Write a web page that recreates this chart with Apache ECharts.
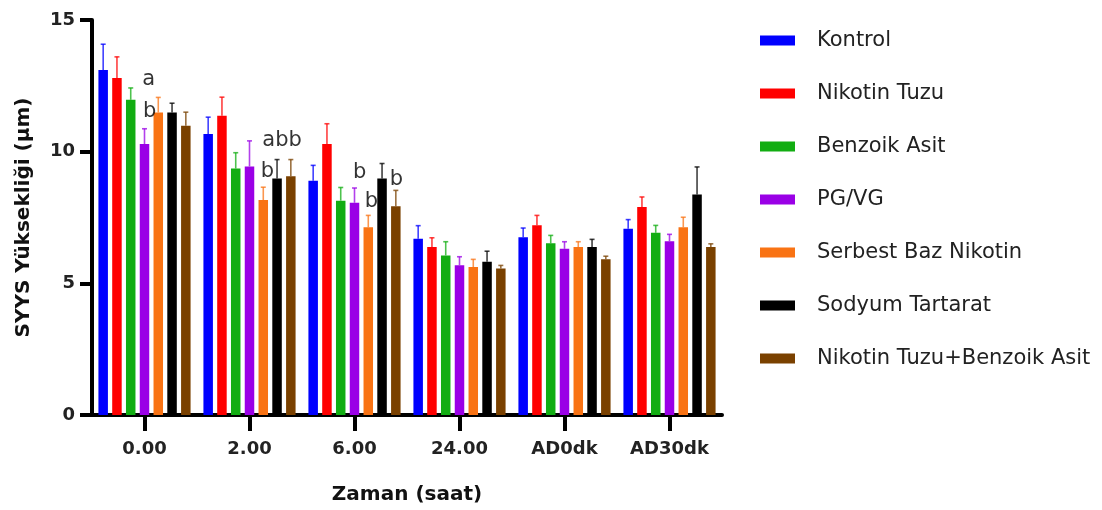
<!DOCTYPE html>
<html>
<head>
<meta charset="utf-8">
<script src="https://cdn.jsdelivr.net/npm/echarts@6/dist/echarts.min.js"></script>
<style>
html,body{margin:0;padding:0;background:#fff;}
#c{width:1102px;height:510px;}
</style>
</head>
<body>
<div id="c"></div>
<script>
const categories = ['0.00', '2.00', '6.00', '24.00', 'AD0dk', 'AD30dk'];
const seriesNames = ['Kontrol', 'Nikotin Tuzu', 'Benzoik Asit', 'PG/VG', 'Serbest Baz Nikotin', 'Sodyum Tartarat', 'Nikotin Tuzu+Benzoik Asit'];
const colors = ['#0000ff', '#ff0000', '#12ad12', '#9a00e6', '#f97314', '#000000', '#7a4100'];

const kontrol      = [13.10, 10.67, 8.90, 6.69, 6.75, 7.07];
const kontrolErr   = [0.98, 0.64, 0.58, 0.50, 0.35, 0.35];
const nikotinTuzu  = [12.80, 11.36, 10.29, 6.38, 7.21, 7.90];
const nikotinTuzuErr = [0.80, 0.71, 0.77, 0.35, 0.37, 0.38];
const benzoikAsit  = [11.97, 9.36, 8.14, 6.06, 6.52, 6.92];
const benzoikAsitErr = [0.45, 0.60, 0.50, 0.52, 0.30, 0.28];
const pgvg         = [10.29, 9.44, 8.06, 5.69, 6.31, 6.60];
const pgvgErr      = [0.58, 0.97, 0.56, 0.32, 0.27, 0.26];
const serbestBaz   = [11.49, 8.16, 7.13, 5.62, 6.38, 7.13];
const serbestBazErr = [0.57, 0.49, 0.45, 0.29, 0.20, 0.38];
const sodyum       = [11.49, 8.98, 8.98, 5.82, 6.38, 8.37];
const sodyumErr    = [0.35, 0.72, 0.57, 0.40, 0.29, 1.05];
const ntba         = [10.98, 9.07, 7.93, 5.56, 5.91, 6.38];
const ntbaErr      = [0.52, 0.63, 0.60, 0.12, 0.12, 0.12];

const yTicks = [0, 5, 10, 15];

// significance letters: [x position on category scale, y value, text]
const annoX = [0.04, 0.05, 1.31, 1.17, 2.05, 2.16, 2.40];
const annoY = [12.73, 11.52, 10.42, 9.24, 9.20, 8.11, 8.94];
const annoText = ['a', 'b', 'abb', 'b', 'b', 'b', 'b'];

const values = [kontrol, nikotinTuzu, benzoikAsit, pgvg, serbestBaz, sodyum, ntba];
const errs = [kontrolErr, nikotinTuzuErr, benzoikAsitErr, pgvgErr, serbestBazErr, sodyumErr, ntbaErr];

const BAR_W = 9.5;
const GAP = 0.45;
const FONT = 'DejaVu Sans';

const chart = echarts.init(document.getElementById('c'), null, {renderer: 'canvas'});

const series = [];
seriesNames.forEach((name, k) => {
  series.push({
    name: name,
    type: 'bar',
    data: values[k],
    barWidth: BAR_W,
    barGap: (GAP * 100) + '%',
    itemStyle: {color: colors[k]},
    xAxisIndex: 0, yAxisIndex: 0,
    z: 2
  });
});
seriesNames.forEach((name, k) => {
  const n = seriesNames.length;
  series.push({
    type: 'custom',
    name: name + '_err',
    xAxisIndex: 0, yAxisIndex: 0,
    z: 3,
    silent: true,
    data: values[k].map((v, i) => [i, v, v + errs[k][i]]),
    renderItem: function (params, api) {
      const step = BAR_W * (1 + GAP);
      const off = (k - (n - 1) / 2) * step;
      const base = api.coord([api.value(0), api.value(1)]);
      const top = api.coord([api.value(0), api.value(2)]);
      const x = base[0] + off;
      const st = {stroke: colors[k], lineWidth: 1.6, opacity: 0.75};
      return {
        type: 'group',
        children: [
          {type: 'line', shape: {x1: x, y1: base[1], x2: x, y2: top[1]}, style: st},
          {type: 'line', shape: {x1: x - 2.5, y1: top[1], x2: x + 2.5, y2: top[1]}, style: st}
        ]
      };
    }
  });
});
series.push({
  type: 'scatter',
  xAxisIndex: 1, yAxisIndex: 0,
  symbolSize: 0,
  silent: true,
  z: 5,
  data: annoX.map((x, i) => [x, annoY[i], annoText[i]]),
  label: {
    show: true,
    position: 'inside',
    formatter: p => p.data[2],
    fontFamily: FONT,
    fontSize: 21,
    color: '#000'
  }
});

chart.setOption({
  backgroundColor: '#ffffff',
  animation: false,
  textStyle: {fontFamily: FONT},
  grid: {left: 92, right: 380, top: 20, bottom: 93, containLabel: false},
  legend: {
    orient: 'vertical',
    left: 755,
    top: 24,
    data: seriesNames,
    icon: 'rect',
    itemWidth: 35,
    itemHeight: 10,
    itemGap: 30,
    textStyle: {fontFamily: FONT, fontSize: 21, color: '#222', padding: [0, 0, 0, 17], lineHeight: 23}
  },
  xAxis: [{
    type: 'category',
    data: categories,
    name: 'Zaman (saat)',
    nameLocation: 'middle',
    nameGap: 70,
    nameTextStyle: {fontFamily: FONT, fontWeight: 'bold', fontSize: 20, color: '#111'},
    axisLine: {show: true, onZero: false, lineStyle: {color: '#000', width: 4}},
    axisTick: {show: true, interval: 0, alignWithLabel: true, length: 16, lineStyle: {color: '#000', width: 4}},
    axisLabel: {margin: 25, fontFamily: FONT, fontWeight: 'bold', fontSize: 18, color: '#222'},
    splitLine: {show: false}
  }, {
    type: 'value',
    min: -0.5, max: 5.5,
    show: false
  }],
  yAxis: [{
    type: 'value',
    min: yTicks[0], max: yTicks[yTicks.length - 1], interval: 5,
    name: 'SYYS Yüksekliği (µm)',
    nameLocation: 'middle',
    nameGap: 58,
    nameTextStyle: {fontFamily: FONT, fontWeight: 'bold', fontSize: 20, color: '#111'},
    axisLine: {show: true, onZero: false, lineStyle: {color: '#000', width: 4}},
    axisTick: {show: true, length: 12, lineStyle: {color: '#000', width: 4}},
    axisLabel: {margin: 17, fontFamily: FONT, fontWeight: 'bold', fontSize: 18, color: '#222'},
    splitLine: {show: false}
  }],
  series: series
});
</script>
</body>
</html>
